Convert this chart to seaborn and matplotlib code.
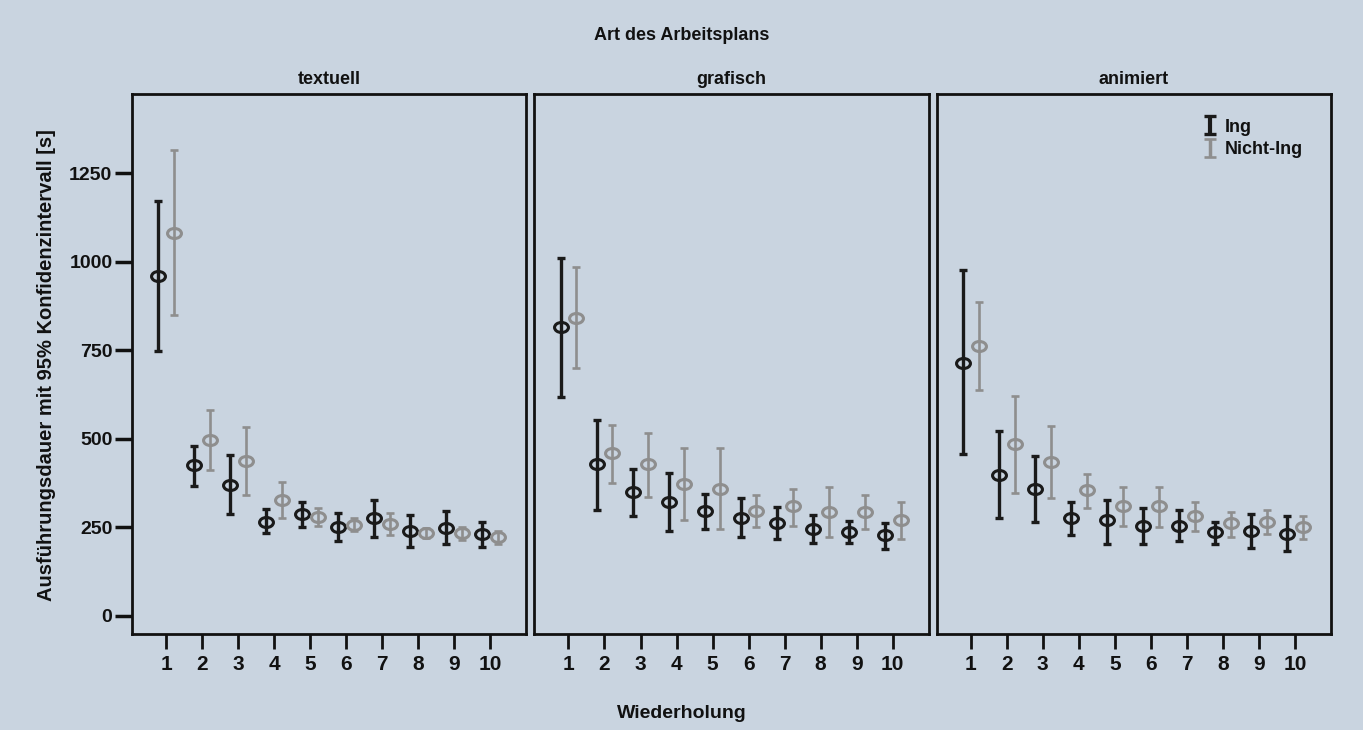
"""
Ausfuehrungsdauer je Wiederholung und Art des Arbeitsplans (Ing vs. Nicht-Ing),
Mittelwerte mit 95%-Konfidenzintervall.
"""
import matplotlib
matplotlib.use("Agg")
import matplotlib.pyplot as plt
from matplotlib.path import Path
import numpy as np
import pandas as pd
import seaborn as sns

# --- data -------------------------------------------------------------
plans = ["textuell", "grafisch", "animiert"]
groups = ["Ing", "Nicht-Ing"]
repetitions = list(range(1, 11))

# textuell
text_ing_mean = [960, 426, 370, 266, 288, 250, 277, 241, 248, 232]
text_ing_lo = [748, 366, 287, 233, 250, 212, 223, 196, 202, 196]
text_ing_hi = [1172, 480, 454, 302, 323, 290, 328, 285, 296, 265]
text_nicht_mean = [1082, 497, 437, 328, 280, 258, 259, 234, 234, 223]
text_nicht_lo = [850, 413, 342, 276, 255, 239, 228, 220, 215, 204]
text_nicht_hi = [1315, 582, 533, 377, 304, 277, 290, 248, 252, 239]

# grafisch
graf_ing_mean = [815, 429, 350, 323, 296, 277, 263, 245, 237, 228]
graf_ing_lo = [617, 299, 283, 239, 245, 223, 217, 207, 207, 190]
graf_ing_hi = [1011, 554, 415, 404, 345, 334, 307, 285, 268, 261]
graf_nicht_mean = [841, 459, 429, 372, 359, 296, 310, 293, 293, 272]
graf_nicht_lo = [700, 375, 337, 272, 245, 250, 255, 223, 245, 217]
graf_nicht_hi = [984, 538, 516, 473, 473, 342, 359, 364, 342, 321]

# animiert
anim_ing_mean = [714, 399, 357, 277, 272, 255, 255, 236, 241, 232]
anim_ing_lo = [457, 277, 266, 228, 204, 204, 212, 204, 193, 183]
anim_ing_hi = [976, 522, 451, 321, 326, 304, 299, 266, 288, 283]
anim_nicht_mean = [763, 484, 435, 355, 310, 310, 283, 263, 266, 250]
anim_nicht_lo = [639, 346, 332, 304, 255, 250, 241, 223, 230, 217]
anim_nicht_hi = [886, 620, 536, 402, 364, 364, 321, 293, 299, 283]

y_ticks = [0, 250, 500, 750, 1000, 1250]


def build_frame():
    series = {
        ("textuell", "Ing"): (text_ing_mean, text_ing_lo, text_ing_hi),
        ("textuell", "Nicht-Ing"): (text_nicht_mean, text_nicht_lo, text_nicht_hi),
        ("grafisch", "Ing"): (graf_ing_mean, graf_ing_lo, graf_ing_hi),
        ("grafisch", "Nicht-Ing"): (graf_nicht_mean, graf_nicht_lo, graf_nicht_hi),
        ("animiert", "Ing"): (anim_ing_mean, anim_ing_lo, anim_ing_hi),
        ("animiert", "Nicht-Ing"): (anim_nicht_mean, anim_nicht_lo, anim_nicht_hi),
    }
    rows = []
    for (plan, grp), (mean, lo, hi) in series.items():
        for rep, m, l, h in zip(repetitions, mean, lo, hi):
            rows.append({"plan": plan, "group": grp, "rep": rep,
                         "mean": m, "lo": l, "hi": h})
    return pd.DataFrame(rows)


BG = "#c9d4e0"
INK = "#111111"
COLORS = {"Ing": "#1a1a1a", "Nicht-Ing": "#8e8e8e"}
OFFSET = {"Ing": -0.22, "Nicht-Ing": 0.22}
WIDTH = {"Ing": 2.4, "Nicht-Ing": 1.9}

# slightly flattened circle, like in the scanned original
_circ = Path.unit_circle()
ELLIPSE = Path(_circ.vertices * np.array([1.0, 0.72]), _circ.codes)


def draw_errorbars(data, color, label=None, **kws):
    ax = plt.gca()
    grp = data["group"].iloc[0]
    x = data["rep"] + OFFSET[grp]
    yerr = [data["mean"] - data["lo"], data["hi"] - data["mean"]]
    ax.errorbar(x, data["mean"], yerr=yerr, fmt="none", ecolor=COLORS[grp],
                elinewidth=WIDTH[grp], capsize=3, capthick=WIDTH[grp])
    ax.plot(x, data["mean"], linestyle="none", marker=ELLIPSE, markersize=10,
            markerfacecolor="none", markeredgecolor=COLORS[grp],
            markeredgewidth=2.2)


df = build_frame()

sns.set_theme(style="ticks")
plt.rcParams["font.family"] = ["Liberation Sans", "DejaVu Sans"]
plt.rcParams["font.weight"] = "bold"
plt.rcParams["text.color"] = INK
plt.rcParams["xtick.labelcolor"] = INK
plt.rcParams["ytick.labelcolor"] = INK

g = sns.FacetGrid(df, col="plan", hue="group", col_order=plans,
                  hue_order=groups, sharey=True, despine=False)
g.map_dataframe(draw_errorbars)

fig = g.figure
fig.set_size_inches(13.63, 7.30)
fig.set_dpi(100)
fig.patch.set_facecolor(BG)
fig.subplots_adjust(left=0.0968, right=0.9765, top=0.871, bottom=0.1315, wspace=0.02)

for i, (ax, plan) in enumerate(zip(g.axes.flat, plans)):
    ax.set_facecolor(BG)
    ax.set_xlim(0.05, 11.0)
    ax.set_ylim(-51, 1473)
    ax.set_xticks(repetitions)
    ax.set_xticklabels([str(r) for r in repetitions], fontsize=15,
                       fontweight="bold", color=INK)
    ax.set_title(plan, fontsize=13, fontweight="bold", pad=7, color=INK)
    ax.set_xlabel("")
    ax.set_ylabel("")
    for sp in ax.spines.values():
        sp.set_linewidth(2)
        sp.set_color(INK)
    ax.tick_params(axis="x", direction="out", length=11, width=2, pad=4,
                   color=INK)
    if i == 0:
        ax.set_yticks(y_ticks)
        ax.set_yticklabels([str(t) for t in y_ticks], fontsize=14,
                           fontweight="bold", color=INK)
        ax.tick_params(axis="y", direction="out", length=12, width=2.5, pad=2,
                       color=INK)
    else:
        ax.tick_params(axis="y", left=False, labelleft=False)

# legend in the last panel: error-bar symbols only
ax_last = g.axes.flat[-1]
handles = []
for grp in groups:
    h = ax_last.errorbar([np.nan], [np.nan], yerr=[1], fmt="none",
                         ecolor=COLORS[grp], elinewidth=WIDTH[grp] + 0.6,
                         capsize=4, capthick=WIDTH[grp])
    handles.append(h)
leg = ax_last.legend(handles, groups, loc="upper right", frameon=False,
                     handlelength=0.8, handletextpad=0.4, labelspacing=0.3,
                     fontsize=13, bbox_to_anchor=(0.97, 0.985))
for t in leg.get_texts():
    t.set_fontweight("bold")
    t.set_color(INK)

fig.text(0.5, 0.952, "Art des Arbeitsplans", ha="center", va="center",
         fontsize=13, fontweight="bold")
fig.text(0.5, 0.022, "Wiederholung", ha="center", va="center",
         fontsize=14, fontweight="bold")
fig.text(0.034, 0.5, "Ausführungsdauer mit 95% Konfidenzintervall [s]",
         ha="center", va="center", rotation=90, fontsize=14.5, fontweight="bold")

fig.savefig("out.png", dpi=100, facecolor=BG)
